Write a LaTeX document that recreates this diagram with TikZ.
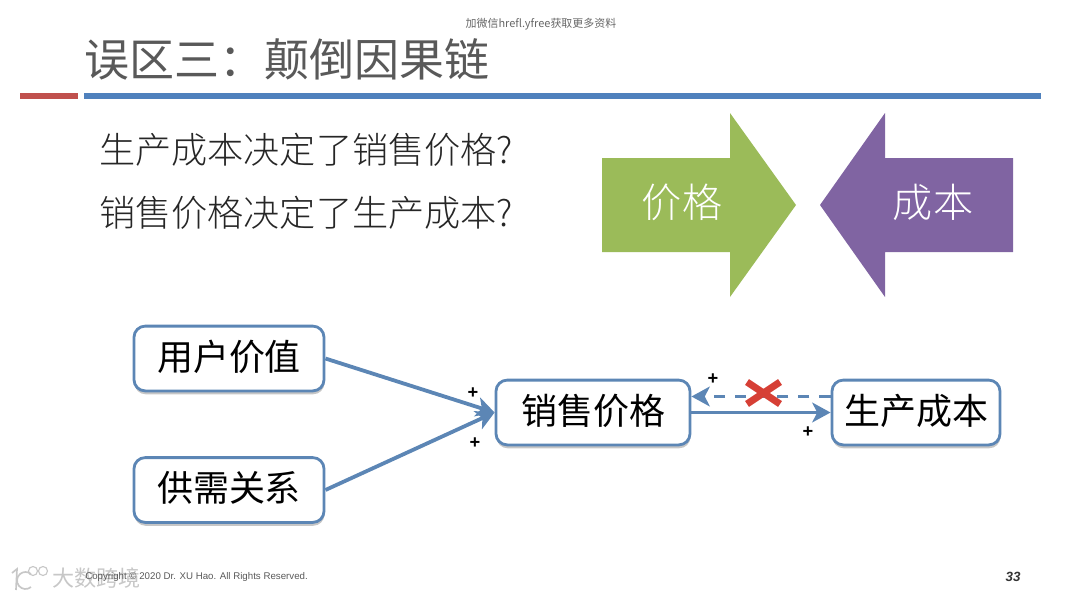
\documentclass[tikz,border=0pt]{standalone}
\usepackage{fontspec}
\usepackage{xcolor}
\setmainfont{Liberation Sans}
\newfontfamily\cjk{Noto Sans CJK SC}
\newfontfamily\cjklight{Noto Sans CJK SC Light}
\usetikzlibrary{arrows.meta,shadows}
\definecolor{ruleRed}{HTML}{C0504D}
\definecolor{ruleBlue}{HTML}{4F81BD}
\definecolor{arrowGreen}{HTML}{9BBB59}
\definecolor{arrowPurple}{HTML}{8064A2}
\definecolor{boxBlue}{HTML}{5C86B5}
\definecolor{titleGray}{HTML}{595959}
\definecolor{crossRed}{HTML}{D63F35}
\tikzset{
    factor/.style={draw=boxBlue, line width=2pt, rounded corners=8pt, fill=white, minimum height=1.62cm,
        font=\cjk\fontsize{25.6}{28}\selectfont, text=black, inner sep=0pt, text height=22pt, text depth=5.4pt,
        drop shadow={shadow xshift=0.3pt, shadow yshift=-2.4pt, opacity=0.45}},
    link/.style={draw=boxBlue, line width=2.7pt, -{Stealth[length=13pt,width=14pt,inset=3.5pt]}},
    plus/.style={font=\fontsize{13}{15}\selectfont\bfseries, text=black, inner sep=0pt},
    question/.style={anchor=west, font=\cjklight\fontsize{25.7}{28}\selectfont, text=black!85, inner sep=0pt},
    bigword/.style={font=\cjklight\fontsize{28.5}{32}\selectfont, text=white, inner sep=0pt},
}
\begin{document}
\begin{tikzpicture}[x=0.025cm, y=-0.025cm]
        \useasboundingbox (0,0) rectangle (1080,599);

        % Titel
        \node[anchor=west, inner sep=0pt, text=titleGray, font=\cjk\fontsize{32}{36}\selectfont] (title) at (84,59) {误区三：颠倒因果链};
        \node[inner sep=0pt, text=black!60, font=\cjk\fontsize{7.8}{8}\selectfont] (wechat) at (541,24) {加微信hrefl.yfree获取更多资料};

        % Linien
        \fill[ruleRed] (20,93) rectangle (78,99);
        \fill[ruleBlue] (84,93) rectangle (1041,99);

        % Fragen
        \node[question] (q1) at (99,150) {生产成本决定了销售价格?};
        \node[question] (q2) at (99,213) {销售价格决定了生产成本?};

        % Pfeile oben
        \fill[arrowGreen] (602,158) -- (730,158) -- (730,113) -- (796,205) -- (730,297) -- (730,252) -- (602,252) -- cycle;
        \node[bigword] (price) at (682,202) {价格};
        \fill[arrowPurple] (1013,158) -- (885,158) -- (885,113) -- (820,205) -- (885,297) -- (885,252) -- (1013,252) -- cycle;
        \node[bigword] (cost) at (933,202) {成本};

        % Kasten
        \node[factor, minimum width=4.75cm] (value) at (229,358.5) {用户价值};
        \node[factor, minimum width=4.75cm] (demand) at (229,490) {供需关系};
        \node[factor, minimum width=4.85cm] (sale) at (593,412.5) {销售价格};
        \node[factor, minimum width=4.2cm] (prod) at (916,412.5) {生产成本};

        % Verbindungen
        \draw[link] (value.east) -- (sale.west);
        \draw[link] (demand.east) -- (sale.west);
        \draw[link] (sale.east) -- (prod.west);
        \coordinate (dashFrom) at ([yshift=0.4cm]prod.west);
        \coordinate (dashTo) at ([yshift=0.4cm]sale.east);
        \draw[link, dashed, dash pattern=on 8pt off 7pt] (dashFrom) -- (dashTo);

        % Kreuz
        \draw[crossRed, line width=5pt] (747,382) -- (780,404);
        \draw[crossRed, line width=5pt] (780,382) -- (747,404);

        % Vorzeichen
        \node[plus] (p1) at (473,393) {+};
        \node[plus] (p2) at (475,443) {+};
        \node[plus] (p3) at (713,379) {+};
        \node[plus] (p4) at (808,432) {+};

        % Fusszeile
        \draw[black!22, line width=1.2pt] (12,573) -- (17,569) -- (16,590);
        \draw[black!22, line width=1.2pt] (31,587) arc (50:310:8.5);
        \draw[black!22, line width=0.8pt] (33,571) circle (4.5) (43,571) circle (4.5);
        \node[anchor=west, inner sep=0pt, text=black!22, font=\cjk\fontsize{15.7}{17}\selectfont] (brand) at (52,578) {大数跨境};
        \node[anchor=west, inner sep=0pt, text=black!65, font=\fontsize{6.9}{9}\selectfont] (copy) at (85,577) {Copyright © 2020 Dr. XU Hao. All Rights Reserved.};
        \node[inner sep=0pt, text=black!80, font=\fontsize{9.5}{11}\itshape\bfseries\selectfont] (page) at (1013,577) {33};
\end{tikzpicture}
\end{document}
